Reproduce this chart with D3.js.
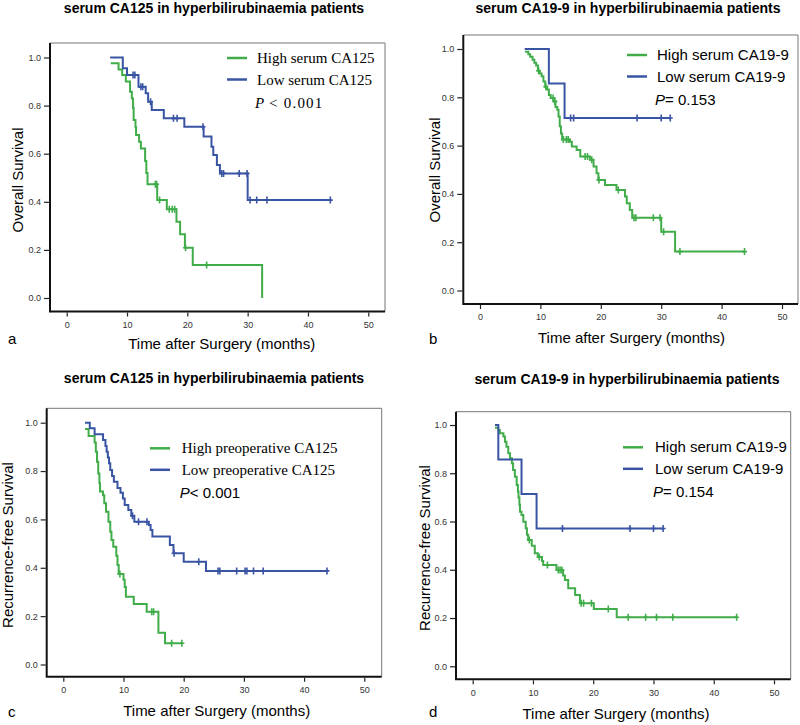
<!DOCTYPE html>
<html>
<head>
<meta charset="utf-8">
<script src="https://cdn.jsdelivr.net/npm/d3@7/dist/d3.min.js"></script>
<style>
  body { margin: 0; background: #fff; }
  svg { display: block; font-family: Arial, "Liberation Sans", sans-serif; }
  .c-axis text { font-size: 9px; fill: #333; }
  .c-axis line { stroke: #222; stroke-width: 1.2; }
</style>
</head>
<body>
<div id="chart"></div>
<script>
// ---- values ----
const xTicks = [0, 10, 20, 30, 40, 50];
const yTicks = [0, 0.2, 0.4, 0.6, 0.8, 1.0];

const panelLetters = ['a', 'b', 'c', 'd'];
const panelTitles = [
  'serum CA125 in hyperbilirubinaemia patients',
  'serum CA19-9 in hyperbilirubinaemia patients',
  'serum CA125 in hyperbilirubinaemia patients',
  'serum CA19-9 in hyperbilirubinaemia patients'
];
const yTitles = ['Overall Survival', 'Overall Survival', 'Recurrence-free Survival', 'Recurrence-free Survival'];
const xTitle = 'Time after Surgery (months)';
const highLabels = ['High serum CA125', 'High serum CA19-9', 'High preoperative CA125', 'High serum CA19-9'];
const lowLabels = ['Low serum CA125', 'Low serum CA19-9', 'Low preoperative CA125', 'Low serum CA19-9'];
const pTexts = [' < 0.001', '= 0.153', '< 0.001', '= 0.154'];

// steps: [months, survival after the event]; censored: months
const aHighSteps = [[7.3, 0.976], [8.6, 0.95], [9.2, 0.927], [9.8, 0.90], [10.5, 0.858], [10.8, 0.83], [11.0, 0.79], [11.1, 0.74], [11.4, 0.71], [11.5, 0.678], [12.0, 0.65], [12.3, 0.622], [13.0, 0.57], [13.2, 0.52], [13.4, 0.473], [15.0, 0.407], [16.6, 0.369], [18.2, 0.317], [18.8, 0.265], [19.6, 0.209], [20.9, 0.137], [32.4, 0.0]];
const aHighCensored = [14.7, 14.9, 15.4, 17.0, 17.5, 17.9, 19.7, 23.2];
const aLowSteps = [[7.2, 1.0], [9.3, 0.955], [10.0, 0.927], [11.9, 0.878], [13.1, 0.851], [13.5, 0.816], [14.1, 0.782], [16.1, 0.747], [19.5, 0.712], [22.7, 0.671], [24.0, 0.629], [24.3, 0.595], [24.9, 0.553], [25.4, 0.518], [30.0, 0.407]];
const aLowCensored = [11.0, 11.3, 12.3, 12.6, 13.9, 17.7, 18.3, 22.6, 25.7, 26.0, 28.6, 29.9, 30.4, 31.5, 33.2, 43.7];

const bHighSteps = [[7.45, 0.989], [8.0, 0.978], [8.3, 0.968], [8.7, 0.955], [9.0, 0.943], [9.3, 0.932], [9.6, 0.91], [9.9, 0.899], [10.2, 0.887], [10.5, 0.865], [10.8, 0.844], [11.1, 0.832], [11.4, 0.81], [11.7, 0.797], [12.2, 0.783], [12.5, 0.76], [12.8, 0.748], [13.0, 0.72], [13.2, 0.68], [13.4, 0.65], [13.6, 0.625], [14.9, 0.616], [15.2, 0.596], [16.0, 0.582], [16.6, 0.555], [18.2, 0.541], [18.8, 0.513], [19.3, 0.485], [19.6, 0.458], [20.7, 0.437], [22.6, 0.416], [24.0, 0.389], [24.3, 0.361], [24.8, 0.333], [25.2, 0.301], [30.0, 0.243], [32.3, 0.161]];
const bHighCensored = [9.7, 10.9, 12.1, 12.4, 13.8, 14.3, 14.6, 17.4, 17.8, 18.5, 19.7, 22.9, 25.5, 25.8, 28.7, 29.8, 30.4, 33.1, 43.8];
const bLowSteps = [[7.4, 1.0], [11.4, 0.857], [14.0, 0.714]];
const bLowCensored = [15.0, 15.5, 26.0, 30.0, 31.5];

const cHighSteps = [[3.6, 0.974], [4.2, 0.945], [5.2, 0.918], [5.4, 0.88], [5.6, 0.839], [5.8, 0.79], [6.0, 0.75], [6.1, 0.715], [6.6, 0.70], [6.8, 0.667], [7.1, 0.632], [7.5, 0.59], [7.8, 0.549], [8.0, 0.515], [8.3, 0.487], [8.8, 0.45], [9.0, 0.411], [9.2, 0.374], [10.0, 0.35], [10.2, 0.32], [10.4, 0.28], [11.7, 0.25], [13.85, 0.218], [15.8, 0.131], [16.9, 0.088]];
const cHighCensored = [9.4, 14.7, 15.0, 18.0, 19.7];
const cLowSteps = [[3.6, 1.0], [4.4, 0.977], [5.2, 0.952], [6.6, 0.928], [7.0, 0.904], [7.2, 0.88], [7.4, 0.856], [7.6, 0.832], [7.8, 0.804], [8.1, 0.78], [8.4, 0.756], [9.0, 0.73], [9.5, 0.71], [9.9, 0.687], [10.2, 0.66], [10.8, 0.639], [11.3, 0.615], [11.8, 0.59], [14.2, 0.577], [14.5, 0.556], [14.8, 0.529], [17.7, 0.494], [18.3, 0.46], [20.0, 0.425], [23.7, 0.387]];
const cLowCensored = [11.5, 12.5, 13.9, 18.4, 22.5, 25.7, 26.0, 28.8, 30.2, 30.5, 31.6, 33.2, 43.8];

const dHighSteps = [[3.7, 0.989], [4.25, 0.979], [4.5, 0.966], [5.1, 0.952], [5.35, 0.931], [5.6, 0.91], [5.9, 0.883], [6.2, 0.862], [6.5, 0.841], [6.7, 0.814], [7.0, 0.786], [7.3, 0.751], [7.5, 0.724], [7.6, 0.70], [7.75, 0.67], [7.85, 0.641], [8.1, 0.627], [8.4, 0.599], [8.8, 0.572], [9.0, 0.545], [9.2, 0.523], [9.8, 0.50], [10.3, 0.468], [10.8, 0.453], [11.5, 0.436], [11.7, 0.42], [13.9, 0.399], [15.0, 0.376], [15.3, 0.358], [15.85, 0.323], [17.0, 0.296], [17.8, 0.261], [20.1, 0.237], [23.9, 0.203]];
const dHighCensored = [9.4, 11.05, 12.4, 14.2, 14.5, 14.8, 18.0, 18.4, 19.7, 22.5, 25.8, 28.7, 30.5, 33.2, 43.8];
const dLowSteps = [[3.7, 1.0], [4.25, 0.857], [8.1, 0.714], [10.6, 0.571]];
const dLowCensored = [14.9, 26.1, 30.0, 31.6];

const highColor = '#41ad4a';
const lowColor = '#3a54a4';

const serifFamily = '"Liberation Serif", "Times New Roman", serif';
const sansFamily = 'Arial, "Liberation Sans", sans-serif';

// panel placement in the 800x725 picture
const layouts = [
  {frame: [50, 43, 385, 311.5], x: [66.7, 368.3], y: [298, 57.5], title: [214, 13], xTitle: [221.7, 349], yTitle: [22.7, 180], letter: [8, 344], legend: [227, 58, 257], pY: 108, legendFont: serifFamily, pFont: serifFamily, pSpacing: 1.2},
  {frame: [463.3, 35, 798, 304], x: [480, 782], y: [290.5, 49], title: [628, 12.5], xTitle: [631.5, 343], yTitle: [440, 170], letter: [429, 344], legend: [627, 55, 657], pY: 105, legendFont: sansFamily, pFont: sansFamily, pSpacing: 0},
  {frame: [46.7, 408.3, 381.7, 676.7], x: [63.3, 364.3], y: [664.5, 422.7], title: [214, 383], xTitle: [216.7, 716], yTitle: [13.3, 545], letter: [8, 717], legend: [150, 448.3, 181.7], pY: 498, legendFont: serifFamily, pFont: sansFamily, pSpacing: 0},
  {frame: [456, 411.7, 790.7, 679.3], x: [472.7, 774], y: [666.3, 425], title: [627, 384], xTitle: [616, 719], yTitle: [430, 548], letter: [429, 717], legend: [623, 447.3, 655], pY: 497, legendFont: sansFamily, pFont: sansFamily, pSpacing: 0}
];

class KaplanMeierPanel {
  constructor (svg, index, high, low) {
    this.svg = svg;
    this.i = index;
    this.layout = layouts[index];
    this.high = high;
    this.low = low;
    this.g = null;
    this.xScale = null;
    this.yScale = null;
  }

  render () {
    this.g = this.svg.append('g').attr('class', 'c-panel');
    this.initScales();
    this.drawFrame();
    this.drawAxes();
    this.drawTexts();
    this.drawCurve(this.high, highColor);
    this.drawCurve(this.low, lowColor);
    this.drawLegend();
  }

  initScales () {
    this.xScale = d3.scaleLinear().domain([0, 50]).range(this.layout.x);
    this.yScale = d3.scaleLinear().domain([0, 1]).range(this.layout.y);
  }

  drawFrame () {
    let [l, t, r, b] = this.layout.frame;
    this.g.append('path')
      .attr('d', `M${l},${t}H${r}V${b}`)
      .attr('fill', 'none')
      .attr('stroke', '#777')
      .attr('stroke-width', 1);
    this.g.append('path')
      .attr('d', `M${l},${t}V${b}H${r}`)
      .attr('fill', 'none')
      .attr('stroke', '#111')
      .attr('stroke-width', 2);
  }

  drawAxes () {
    let [l, , , b] = this.layout.frame;
    let yAxis = d3.axisLeft(this.yScale).tickValues(yTicks).tickFormat(d3.format('.1f')).tickSize(5).tickPadding(3);
    let xAxis = d3.axisBottom(this.xScale).tickValues(xTicks).tickSize(4).tickPadding(5);

    this.g.append('g')
      .attr('class', 'c-axis')
      .attr('transform', `translate(${l - 1}, 0)`)
      .call(yAxis)
      .call(g => g.select('.domain').remove());

    this.g.append('g')
      .attr('class', 'c-axis')
      .attr('transform', `translate(0, ${b + 1})`)
      .call(xAxis)
      .call(g => g.select('.domain').remove());
  }

  drawTexts () {
    let L = this.layout;
    this.g.append('text')
      .attr('x', L.title[0]).attr('y', L.title[1])
      .attr('text-anchor', 'middle')
      .attr('font-size', 14).attr('font-weight', 'bold')
      .text(panelTitles[this.i]);

    this.g.append('text')
      .attr('x', L.xTitle[0]).attr('y', L.xTitle[1])
      .attr('text-anchor', 'middle')
      .attr('font-size', 15)
      .text(xTitle);

    this.g.append('text')
      .attr('transform', `translate(${L.yTitle[0]}, ${L.yTitle[1]}) rotate(-90)`)
      .attr('text-anchor', 'middle')
      .attr('font-size', 15)
      .text(yTitles[this.i]);

    this.g.append('text')
      .attr('x', L.letter[0]).attr('y', L.letter[1])
      .attr('font-size', 15)
      .text(panelLetters[this.i]);
  }

  survivalAt (steps, t) {
    let s = 1;
    steps.forEach(([time, surv]) => {
      if (time <= t) {
        s = surv;
      }
    });
    return s;
  }

  drawCurve (series, color) {
    let points = series.steps.slice();
    let last = points[points.length - 1];
    let lastCensored = d3.max(series.censored);
    if (lastCensored > last[0]) {
      points.push([lastCensored, last[1]]);
    }

    let line = d3.line()
      .x(d => this.xScale(d[0]))
      .y(d => this.yScale(d[1]))
      .curve(d3.curveStepAfter);

    this.g.append('path')
      .datum(points)
      .attr('d', line)
      .attr('fill', 'none')
      .attr('stroke', color)
      .attr('stroke-width', 2);

    this.g.append('g')
      .selectAll('path')
      .data(series.censored)
      .enter()
      .append('path')
      .attr('d', (t) => {
        let x = this.xScale(t);
        let y = this.yScale(this.survivalAt(series.steps, t));
        return `M${x},${y - 3.5}v7M${x - 2.5},${y}h5`;
      })
      .attr('stroke', color)
      .attr('stroke-width', 1.6);
  }

  drawLegend () {
    let L = this.layout;
    let [x1, y, tx] = L.legend;
    let rows = [[highLabels[this.i], highColor], [lowLabels[this.i], lowColor]];

    rows.forEach(([label, color], k) => {
      let yy = y + k * 21.5;
      this.g.append('line')
        .attr('x1', x1).attr('x2', x1 + 20)
        .attr('y1', yy).attr('y2', yy)
        .attr('stroke', color).attr('stroke-width', 2.5);
      this.g.append('text')
        .attr('x', tx).attr('y', yy + 5)
        .attr('font-family', L.legendFont)
        .attr('font-size', 15)
        .text(label);
    });

    let p = this.g.append('text')
      .attr('x', tx - 2).attr('y', L.pY)
      .attr('font-family', L.pFont)
      .attr('font-size', 15);
    p.append('tspan').attr('font-style', 'italic').text('P');
    p.append('tspan')
      .attr('xml:space', 'preserve')
      .attr('letter-spacing', L.pSpacing)
      .text(pTexts[this.i]);
  }
}

const svg = d3.select('#chart')
  .append('svg')
  .attr('width', 800)
  .attr('height', 725);

const panelData = [
  [{steps: aHighSteps, censored: aHighCensored}, {steps: aLowSteps, censored: aLowCensored}],
  [{steps: bHighSteps, censored: bHighCensored}, {steps: bLowSteps, censored: bLowCensored}],
  [{steps: cHighSteps, censored: cHighCensored}, {steps: cLowSteps, censored: cLowCensored}],
  [{steps: dHighSteps, censored: dHighCensored}, {steps: dLowSteps, censored: dLowCensored}]
];

panelData.forEach(([high, low], i) => {
  new KaplanMeierPanel(svg, i, high, low).render();
});
</script>
</body>
</html>
